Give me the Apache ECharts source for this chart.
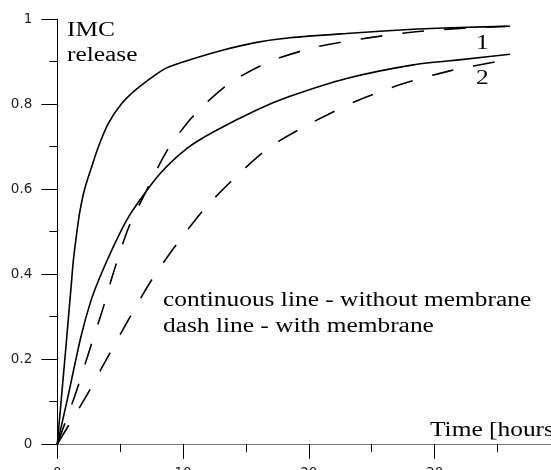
<!DOCTYPE html>
<html>
<head>
<meta charset="utf-8">
<script src="https://cdn.jsdelivr.net/npm/echarts@6/dist/echarts.min.js"></script>
<style>
html,body{margin:0;padding:0;background:#fff;}
#chart{width:551px;height:470px;}
</style>
</head>
<body>
<div id="chart"></div>
<script>
// Curve 1, without membrane (continuous)
const t1Solid = [0, 0.66, 1.12, 1.27, 1.54, 1.8, 2.2, 2.73, 3.26, 4.05, 5.12, 6.18, 7.77, 8.7, 10.55, 13.2, 15.85, 18.5, 23, 28.3, 32, 36];
const v1Solid = [0, 0.22, 0.378, 0.43, 0.495, 0.548, 0.603, 0.652, 0.699, 0.754, 0.801, 0.832, 0.868, 0.885, 0.904, 0.927, 0.945, 0.956, 0.966, 0.976, 0.98, 0.983];
// Curve 2, without membrane (continuous)
const t2Solid = [0, 0.8, 1.86, 2.65, 3.39, 4.45, 5.52, 6.57, 8.16, 10.29, 12.4, 15.85, 18.5, 23, 28.3, 32.3, 36];
const v2Solid = [0, 0.105, 0.25, 0.335, 0.393, 0.464, 0.527, 0.574, 0.636, 0.695, 0.734, 0.786, 0.818, 0.86, 0.892, 0.905, 0.917];
// Curve 1, with membrane (dashed)
const t1Dash = [0, 1.46, 2.52, 3.59, 4.43, 5.64, 7.1, 8.74, 10.87, 13.6, 16.9, 20.7, 24.6, 28.5, 32, 36];
const v1Dash = [0, 0.119, 0.217, 0.315, 0.4, 0.507, 0.597, 0.691, 0.774, 0.847, 0.9, 0.935, 0.955, 0.97, 0.978, 0.983];
// Curve 2, with membrane (dashed)
const t2Dash = [0, 2.39, 3.98, 5.63, 7.46, 9.44, 11.66, 14.23, 16.96, 20.3, 23.7, 27.4, 31.2, 35, 36];
const v2Dash = [0, 0.117, 0.203, 0.291, 0.384, 0.468, 0.552, 0.63, 0.7, 0.757, 0.806, 0.847, 0.878, 0.9, 0.903];

const xTicks = [0, 10, 20, 30, 40];
const yTicks = [0, 0.2, 0.4, 0.6, 0.8, 1];

const texts = {
  yTitle1: 'IMC',
  yTitle2: 'release',
  label1: '1',
  label2: '2',
  note1: 'continuous line - without membrane',
  note2: 'dash line - with membrane',
  xTitle: 'Time [hours]'
};

function pairs(xs, ys) { return xs.map((x, i) => [x, ys[i]]); }

const chart = echarts.init(document.getElementById('chart'), null, {renderer: 'canvas'});
const serif = '20px "Liberation Serif", "Times New Roman", serif';
const SX = 1.27;
function txt(text, x, y) {
  return {
    type: 'text', x: x, y: y, scaleX: SX, scaleY: 1,
    style: {text: text, x: 0, y: 0, font: serif, fill: '#000', textAlign: 'left', textVerticalAlign: 'top'},
    z: 10
  };
}
const lineBase = {type: 'line', showSymbol: false, symbol: 'none', smooth: 0.25, animation: false, silent: true};

chart.setOption({
  animation: false,
  backgroundColor: '#fff',
  grid: {left: 57.3, width: 503.1, top: 19, bottom: 26, containLabel: false, outerBoundsMode: 'none'},
  xAxis: {
    type: 'value', min: xTicks[0], max: xTicks[xTicks.length - 1], interval: 10,
    axisLine: {show: true, onZero: false, lineStyle: {color: '#777', width: 1.2}},
    axisTick: {show: true, length: 15, lineStyle: {color: '#000', width: 1}},
    minorTick: {show: true, splitNumber: 2, length: 8, lineStyle: {color: '#000', width: 1}},
    splitLine: {show: false},
    axisLabel: {show: true, margin: 22, fontSize: 13.5, color: '#222', fontFamily: '"DejaVu Sans", sans-serif', showMaxLabel: false}
  },
  yAxis: {
    type: 'value', min: yTicks[0], max: yTicks[yTicks.length - 1], interval: 0.2,
    axisLine: {show: true, onZero: false, lineStyle: {color: '#000', width: 1}},
    axisTick: {show: true, length: 16, lineStyle: {color: '#000', width: 1}},
    minorTick: {show: true, splitNumber: 2, length: 8, lineStyle: {color: '#000', width: 1}},
    splitLine: {show: false},
    axisLabel: {show: true, margin: 25, fontSize: 13.5, color: '#222', fontFamily: '"DejaVu Sans", sans-serif'}
  },
  series: [
    Object.assign({}, lineBase, {name: 's1', data: pairs(t1Solid, v1Solid), lineStyle: {color: '#000', width: 1.6, type: 'solid'}}),
    Object.assign({}, lineBase, {name: 's2', data: pairs(t2Solid, v2Solid), lineStyle: {color: '#000', width: 1.6, type: 'solid'}}),
    Object.assign({}, lineBase, {name: 'd1', data: pairs(t1Dash, v1Dash), lineStyle: {color: '#000', width: 1.6, type: [22, 20]}}),
    Object.assign({}, lineBase, {name: 'd2', data: pairs(t2Dash, v2Dash), lineStyle: {color: '#000', width: 1.6, type: [22, 20]}})
  ],
  graphic: [
    txt(texts.yTitle1, 67, 21),
    txt(texts.yTitle2, 67, 46),
    txt(texts.label1, 476, 34),
    txt(texts.label2, 476, 69),
    txt(texts.note1, 163, 291),
    txt(texts.note2, 163, 317),
    txt(texts.xTitle, 430, 421)
  ]
});
</script>
</body>
</html>
